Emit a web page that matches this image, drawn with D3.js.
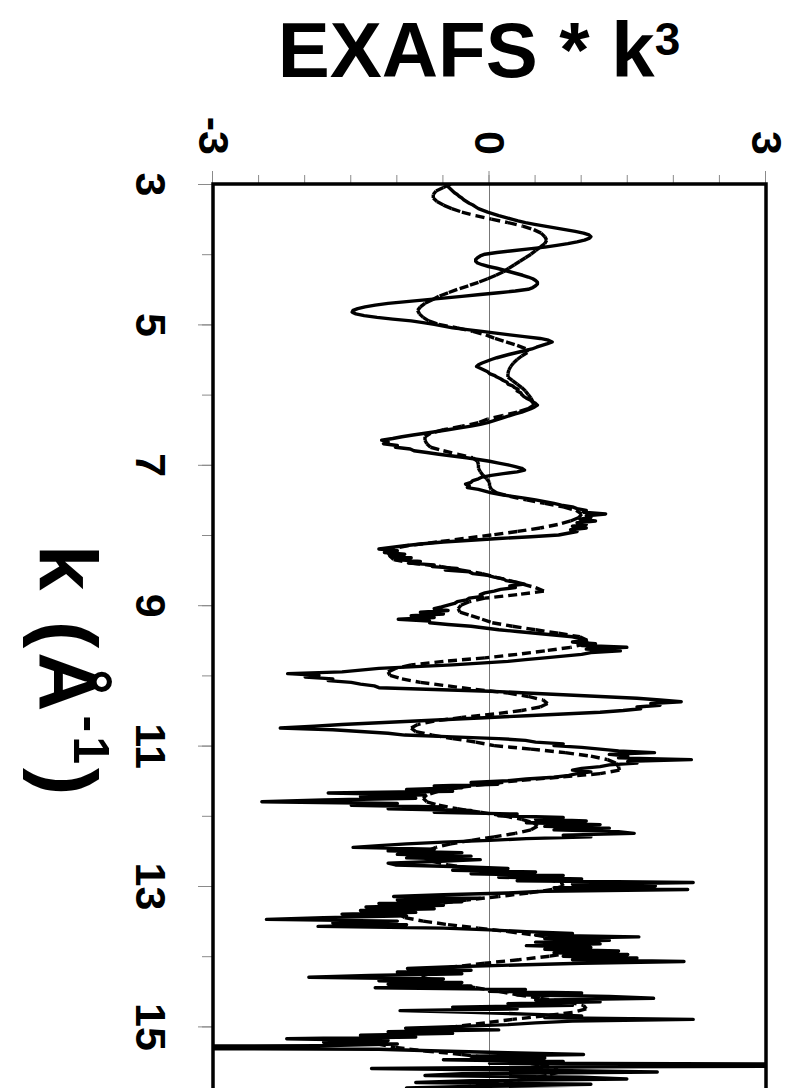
<!DOCTYPE html>
<meta charset="utf-8">
<style>
    body { margin: 0; background: #fff; }
    svg { display: block; background: #fff; }
    text { font-family: "Liberation Sans", Arial, sans-serif; font-weight: bold; fill: #000; }
</style>

<script src="https://d3js.org/d3.v7.min.js"></script>

<svg id="chart" width="790" height="1088"></svg>

<script>

// Data (k in 1/Angstrom, values are EXAFS * k^3)

var kFirst = 3;
var kLast = 16;

// measured spectrum, one value every 0.025 from k = 3 (two rows per unit of k)
var dataStep = 0.025;
var dataValues = [
    -0.47, -0.46, -0.44, -0.42, -0.40, -0.38, -0.35, -0.33, -0.30, -0.28, -0.25, -0.22, -0.18, -0.15, -0.12, -0.07, -0.02, 0.04, 0.10, 0.17,
    0.24, 0.31, 0.39, 0.49, 0.60, 0.71, 0.82, 0.93, 1.02, 1.08, 1.10, 1.08, 1.03, 0.95, 0.85, 0.73, 0.60, 0.43, 0.25, 0.08,
    -0.05, -0.10, -0.13, -0.15, -0.15, -0.13, -0.08, -0.01, 0.08, 0.15, 0.22, 0.29, 0.36, 0.42, 0.47, 0.50, 0.52, 0.52, 0.50, 0.47,
    0.42, 0.28, 0.10, -0.10, -0.30, -0.50, -0.70, -0.90, -1.10, -1.24, -1.35, -1.43, -1.48, -1.49, -1.45, -1.36, -1.22, -1.05, -0.85, -0.72,
    -0.60, -0.50, -0.40, -0.24, -0.08, 0.07, 0.22, 0.38, 0.55, 0.64, 0.68, 0.63, 0.57, 0.51, 0.46, 0.38, 0.30, 0.22, 0.15, 0.08,
    0.02, -0.03, -0.08, -0.12, -0.14, -0.10, -0.06, -0.02, 0.00, 0.05, 0.08, 0.12, 0.15, 0.19, 0.20, 0.25, 0.27, 0.31, 0.30, 0.34,
    0.35, 0.37, 0.40, 0.44, 0.46, 0.50, 0.52, 0.49, 0.45, 0.40, 0.35, 0.28, 0.22, 0.16, 0.10, 0.04, -0.02, -0.10, -0.20, -0.32,
    -0.45, -0.57, -0.70, -0.83, -0.95, -1.05, -1.17, -1.10, -1.15, -1.00, -1.02, -0.86, -0.82, -0.68, -0.55, -0.40, -0.25, -0.12, 0.00, 0.10,
    0.20, 0.28, 0.35, 0.38, 0.30, 0.15, 0.02, -0.08, -0.12, -0.18, -0.20, -0.26, -0.22, -0.24, -0.12, -0.05, 0.02, 0.12, 0.25, 0.38,
    0.50, 0.60, 0.70, 0.78, 0.90, 0.95, 1.05, 1.02, 1.26, 1.05, 1.10, 0.98, 1.15, 0.95, 1.05, 0.90, 1.05, 0.88, 0.95, 0.85,
    0.75, 0.45, 0.10, -0.20, -0.50, -0.72, -0.90, -1.05, -1.20, -1.00, -1.14, -0.92, -1.08, -0.85, -1.02, -0.75, -0.88, -0.60, -0.62, -0.35,
    -0.48, -0.22, -0.18, -0.02, 0.05, 0.15, 0.18, 0.30, 0.38, 0.22, 0.28, 0.12, 0.05, -0.05, -0.10, -0.08, -0.22, -0.25, -0.35, -0.38,
    -0.45, -0.52, -0.60, -0.45, -0.75, -0.50, -0.85, -0.60, -0.99, -0.65, -0.65, -0.45, -0.20, -0.05, 0.10, 0.30, 0.50, 0.70, 0.90, 0.98,
    1.05, 0.90, 1.15, 1.00, 1.49, 1.05, 1.42, 1.10, 1.00, 0.80, 0.60, 0.39, 0.20, -0.10, -0.40, -0.80, -1.20, -1.40, -1.60, -2.19,
    -1.85, -2.00, -1.70, -1.75, -1.50, -1.40, -1.25, -1.20, -0.60, 0.00, 0.40, 0.80, 1.20, 1.60, 1.85, 2.08, 1.75, 1.85, 1.60, 1.64,
    1.45, 1.20, 0.80, 0.40, 0.00, -0.40, -0.80, -1.20, -1.60, -1.90, -2.27, -1.70, -1.40, -1.10, -0.92, -0.40, 0.10, 0.39, 0.50, 0.80,
    0.70, 1.00, 1.20, 1.40, 1.79, 1.30, 1.50, 1.40, 2.19, 1.50, 1.60, 1.30, 1.20, 1.00, 0.90, 1.10, 0.95, 0.86, 0.70, 0.40,
    0.20, -0.20, 0.09, -0.60, -0.30, -0.90, -0.40, -1.75, -0.70, -1.40, -0.80, -1.80, -2.47, -1.00, -1.50, -0.50, -1.10, -0.20, -0.60, 0.30,
    0.10, 0.80, 0.50, 1.05, 0.40, 1.20, 0.60, 1.30, 0.70, 1.40, 1.57, 0.80, 1.10, 0.40, 0.00, -0.50, -0.90, -1.20, -1.48, -0.60,
    -1.10, -0.30, -1.00, -0.20, -0.90, -0.10, -0.60, -1.10, -1.02, -0.30, 0.20, -0.40, 0.50, -0.20, 0.80, 0.10, 1.00, 0.30, 2.21, 0.90,
    1.80, 0.70, 2.15, 0.60, 0.20, -0.50, -1.04, -0.10, -1.00, -0.30, -1.20, -0.50, -1.34, -0.60, -1.40, -0.80, -1.60, -0.90, -1.80, -2.42,
    -1.00, -1.70, -0.90, -1.86, -0.50, 0.00, 0.40, 0.90, 0.50, 1.62, 0.60, 1.30, 0.50, 1.20, 0.40, 1.10, 0.60, 1.40, 0.70, 1.50,
    0.80, 1.60, 0.90, 2.11, 1.00, 0.30, -0.40, -0.89, -0.20, -1.00, -0.30, -1.30, -1.96, -0.50, -1.20, -0.30, -1.10, -0.20, -1.24, 0.39,
    0.00, 1.00, 0.30, 1.30, 1.78, 0.50, 1.20, 0.20, 0.90, -0.40, 0.30, -0.97, -0.20, 0.40, 1.00, 0.60, 2.21, 0.90, 0.50, 0.20,
    -0.30, -0.91, 0.10, -1.10, -0.40, -1.40, -0.80, -2.20, -1.10, -1.80, -1.00, -1.86, -8.00, -1.20, -0.54, 0.20, 1.02, -0.20, 0.60, -0.50,
    0.80, 0.00, 8.00, 1.20, -1.28, 0.50, 1.82, -0.30, -0.70, 1.00, 1.49, -0.20, -0.80, 1.10, 0.00, -0.90, 0.90, -0.50, 0.60, -0.70,
    0.30
];

// fitted curve, one value every 0.05 from k = 3 (one row per unit of k)
var fitStep = 0.05;
var fitValues = [
    -0.42, -0.50, -0.58, -0.61, -0.61, -0.57, -0.50, -0.41, -0.30, -0.15, 0.02, 0.20, 0.36, 0.48, 0.56, 0.60, 0.62, 0.60, 0.55, 0.50,
    0.45, 0.39, 0.33, 0.27, 0.21, 0.15, 0.07, -0.02, -0.12, -0.23, -0.35, -0.45, -0.55, -0.62, -0.70, -0.75, -0.78, -0.76, -0.72, -0.66,
    -0.55, -0.35, -0.18, -0.04, 0.06, 0.18, 0.30, 0.40, 0.41, 0.35, 0.30, 0.26, 0.23, 0.21, 0.20, 0.20, 0.25, 0.30, 0.35, 0.39,
    0.42, 0.45, 0.47, 0.48, 0.42, 0.30, 0.14, -0.02, -0.12, -0.30, -0.50, -0.64, -0.70, -0.70, -0.68, -0.64, -0.50, -0.35, -0.18, -0.13,
    -0.12, -0.12, -0.10, -0.07, -0.03, 0.00, 0.00, 0.02, 0.08, 0.22, 0.40, 0.60, 0.80, 0.94, 1.00, 0.97, 0.88, 0.74, 0.55, 0.30,
    0.02, -0.28, -0.57, -0.88, -1.07, -1.10, -1.08, -1.04, -0.85, -0.52, -0.30, -0.08, 0.06, 0.22, 0.36, 0.50, 0.59, 0.30, -0.05, -0.22,
    -0.31, -0.34, -0.32, -0.20, -0.08, 0.03, 0.25, 0.50, 0.75, 0.98, 1.06, 1.04, 0.88, 0.60, 0.30, -0.05, -0.50, -0.85, -1.02, -1.10,
    -1.08, -0.95, -0.75, -0.45, -0.15, 0.20, 0.42, 0.58, 0.63, 0.55, 0.35, 0.05, -0.30, -0.60, -0.78, -0.85, -0.80, -0.62, -0.40, -0.15,
    0.05, 0.45, 0.82, 1.10, 1.28, 1.37, 1.40, 1.41, 1.20, 0.75, 0.30, -0.05, -0.35, -0.55, -0.68, -0.72, -0.68, -0.55, -0.35, -0.10,
    0.15, 0.35, 0.48, 0.52, 0.45, 0.28, 0.05, -0.20, -0.42, -0.58, -0.67, -0.70, -0.70, -0.62, -0.45, -0.20, 0.10, 0.40, 0.62, 0.78,
    0.80, 0.68, 0.42, 0.10, -0.25, -0.55, -0.78, -0.92, -0.98, -0.92, -0.72, -0.45, -0.12, 0.20, 0.50, 0.72, 0.88, 0.96, 0.98, 0.90,
    0.65, 0.32, -0.05, -0.38, -0.60, -0.72, -0.72, -0.60, -0.40, -0.15, 0.10, 0.30, 0.55, 0.85, 1.02, 1.05, 0.90, 0.60, 0.25, -0.05,
    -0.35, -0.62, -0.95, -1.18, -1.28, -1.22, -1.02, -0.70, -0.30, 0.00, 0.30, 0.55, 0.72, 0.75, 0.62, 0.40, 0.10, -0.20, -0.45, -0.60,
    -0.65
];

var kMajorTicks = [3, 5, 7, 9, 11, 13, 15];
var kMinorTicks = d3.range(3, 17, 1);
var yMajorTicks = [-3, 0, 3];
var yMinorTicks = d3.range(-3, 3.01, 0.5);


// Setup. The chart is drawn in its normal orientation inside a group
// that is turned a quarter turn clockwise.

var svg = d3.select('svg#chart');

var plotW = 912.6;   // along k
var plotH = 553;     // along the value axis

var x = d3.scaleLinear().domain([kFirst, kLast]).range([0, plotW]);
var y = d3.scaleLinear().domain([-3, 3]).range([plotH, 0]);

var g = svg.append('g')
    .attr('transform', 'translate(766,184) rotate(90)');

g.append('clipPath')
    .attr('id', 'plotClip')
  .append('rect')
    .attr('x', 0).attr('y', 0)
    .attr('width', plotW).attr('height', plotH);


// Axes

var tickColor = '#8a8a8a';

function styleAxis(sel) {
    sel.select('.domain').remove();
    sel.selectAll('.tick line').attr('stroke', tickColor).attr('stroke-width', 1);
    sel.selectAll('.tick text')
        .attr('fill', '#000')
        .style('font-family', '"Liberation Sans", Arial, sans-serif')
        .style('font-weight', 'bold')
        .style('font-size', '43px');
}

g.append('g')
    .attr('transform', 'translate(0,' + plotH + ')')
    .call(d3.axisBottom(x).tickValues(kMinorTicks).tickSize(11).tickFormat(''))
    .call(styleAxis);

g.append('g')
    .attr('transform', 'translate(0,' + plotH + ')')
    .call(d3.axisBottom(x).tickValues(kMajorTicks).tickSize(15).tickPadding(31)
        .tickFormat(function (d) { return String(d); }))
    .call(styleAxis);

g.append('g')
    .call(d3.axisLeft(y).tickValues(yMinorTicks).tickSize(9).tickFormat(''))
    .call(styleAxis);

g.append('g')
    .call(d3.axisLeft(y).tickValues(yMajorTicks).tickSize(13).tickPadding(16)
        .tickFormat(function (d) { return String(d); }))
    .call(styleAxis);

// zero line
g.append('line')
    .attr('x1', 0).attr('x2', plotW)
    .attr('y1', y(0)).attr('y2', y(0))
    .attr('stroke', '#777').attr('stroke-width', 1);


// Series

var dataPoints = dataValues.map(function (v, i) { return [kFirst + i * dataStep, v]; });
var fitPoints = fitValues.map(function (v, i) { return [kFirst + i * fitStep, v]; });

var line = d3.line()
    .x(function (d) { return x(d[0]); })
    .y(function (d) { return y(d[1]); });

var series = g.append('g').attr('clip-path', 'url(#plotClip)');

series.append('path')
    .attr('d', line(dataPoints))
    .attr('fill', 'none')
    .attr('stroke', '#000')
    .attr('stroke-width', 3.4)
    .attr('stroke-linejoin', 'round');

// dashed fit: the dash pattern starts again on every segment,
// so short segments near the turning points come out solid
series.selectAll('line.fit')
    .data(d3.pairs(fitPoints))
    .enter().append('line')
    .attr('class', 'fit')
    .attr('x1', function (d) { return x(d[0][0]); })
    .attr('y1', function (d) { return y(d[0][1]); })
    .attr('x2', function (d) { return x(d[1][0]); })
    .attr('y2', function (d) { return y(d[1][1]); })
    .attr('stroke', '#000')
    .attr('stroke-width', 3.4)
    .attr('stroke-dasharray', '9,5');

// plot frame
g.append('rect')
    .attr('x', 0).attr('y', 0)
    .attr('width', plotW).attr('height', plotH)
    .attr('fill', 'none')
    .attr('stroke', '#000')
    .attr('stroke-width', 3.5);


// Titles

var kLabel = g.append('text')
    .attr('x', 488)
    .attr('y', 726)
    .attr('text-anchor', 'middle')
    .style('letter-spacing', '4px')
    .style('font-size', '82px');
kLabel.append('tspan').text('k (Å');
kLabel.append('tspan').attr('dy', -34).style('font-size', '50px').text('-1');
kLabel.append('tspan').attr('dy', 34).text(')');

var title = svg.append('text')
    .attr('x', 479)
    .attr('y', 77)
    .attr('text-anchor', 'middle')
    .style('font-size', '78px');
title.append('tspan').text('EXAFS * k');
title.append('tspan').attr('dy', -22).style('font-size', '46px').text('3');

</script>
